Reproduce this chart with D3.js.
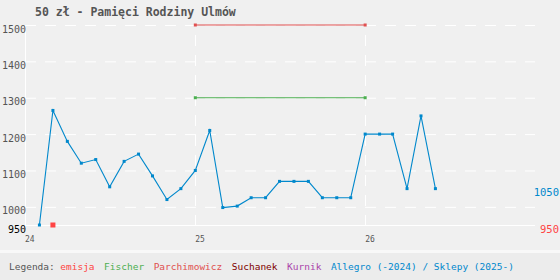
<!DOCTYPE html>
<html>
<head>
<meta charset="utf-8">
<script src="https://cdn.jsdelivr.net/npm/d3@7"></script>
<style>
    body { margin: 0; background: #f0f0f0; }
    svg { display: block; font-family: "DejaVu Sans Mono", monospace; }
</style>
</head>
<body>
<div id="chart"></div>
<script>
// dane
var allegroDates = ["2024-02", "2024-03", "2024-04", "2024-05", "2024-06", "2024-07", "2024-08",
    "2024-09", "2024-10", "2024-11", "2024-12", "2025-01", "2025-02", "2025-03", "2025-04",
    "2025-05", "2025-06", "2025-07", "2025-08", "2025-09", "2025-10", "2025-11", "2025-12",
    "2026-01", "2026-02", "2026-03", "2026-04", "2026-05", "2026-06"];
var allegroValues = [950, 1265, 1180, 1120, 1130, 1055, 1125, 1145, 1085, 1020, 1050, 1100, 1210,
    998, 1002, 1025, 1025, 1070, 1070, 1070, 1025, 1025, 1025, 1200, 1200, 1200, 1050, 1250, 1050];
var emisjaDates = ["2024-03"];
var emisjaValues = [950];
var fischerDates = ["2025-01", "2026-01"];
var fischerValues = [1300, 1300];
var parchDates = ["2025-01", "2026-01"];
var parchValues = [1500, 1500];
var yTicks = [950, 1000, 1100, 1200, 1300, 1400, 1500];
var xTicks = ["2024-01", "2025-01", "2026-01"];
var legendNames = ["emisja", "Fischer", "Parchimowicz", "Suchanek", "Kurnik", "Allegro (-2024) / Sklepy (2025-)"];
var legendColors = ["#ff4444", "#4caf50", "#e05050", "#800000", "#aa44aa", "#0088cc"];

var parse = d3.timeParse("%Y-%m");
function zip(dates, values) {
    return dates.map(function (d, i) { return [parse(d), values[i]]; });
}

var W = 560, H = 280;
var svg = d3.select("#chart").append("svg").attr("width", W).attr("height", H);

svg.append("rect").attr("width", W).attr("height", H).attr("fill", "#f0f0f0");
svg.append("rect").attr("y", 253).attr("width", W).attr("height", H - 253).attr("fill", "#ececec");
svg.append("rect").attr("y", 250).attr("width", W).attr("height", 3).attr("fill", "#f8f8f8");

var x = d3.scaleTime().domain([parse("2024-01"), parse("2027-01")]).range([25, 535]);
var y = d3.scaleLinear().domain([950, 1500]).range([225, 25]);

// siatka
svg.append("g").selectAll("line")
    .data(yTicks.filter(function (t) { return t > 950; }))
    .enter().append("line")
    .attr("x1", 25).attr("x2", 535)
    .attr("y1", function (d) { return y(d) + 0.5; })
    .attr("y2", function (d) { return y(d) + 0.5; })
    .attr("stroke", "#fff").attr("stroke-width", 1)
    .attr("stroke-dasharray", "11,9");

svg.append("g").selectAll("line")
    .data(xTicks.slice(1))
    .enter().append("line")
    .attr("x1", function (d) { return Math.round(x(parse(d))) + 0.5; })
    .attr("x2", function (d) { return Math.round(x(parse(d))) + 0.5; })
    .attr("y1", 25).attr("y2", 228)
    .attr("stroke", "#fff").attr("stroke-width", 1)
    .attr("stroke-dasharray", "11,9").attr("stroke-dashoffset", 10);

// osie
svg.append("line").attr("x1", 25.5).attr("x2", 25.5).attr("y1", 25).attr("y2", 228)
    .attr("stroke", "#fff");
svg.append("line").attr("x1", 25).attr("x2", 535).attr("y1", 225.5).attr("y2", 225.5)
    .attr("stroke", "#fff");

svg.append("g").selectAll("text")
    .data(yTicks)
    .enter().append("text")
    .attr("x", 26).attr("y", function (d) { return y(d) + 7.5; })
    .attr("text-anchor", "end")
    .attr("font-size", "10px")
    .attr("fill", function (d) { return d === 950 ? "#000" : "#555"; })
    .text(function (d) { return d; });

svg.append("g").selectAll("text")
    .data(xTicks)
    .enter().append("text")
    .attr("x", function (d) { return x(parse(d)); })
    .attr("y", 241.5)
    .attr("font-size", "8px")
    .attr("fill", "#555")
    .text(function (d) { return d3.timeFormat("%y")(parse(d)); });

// serie
var line = d3.line()
    .x(function (d) { return x(d[0]); })
    .y(function (d) { return y(d[1]); });

function drawSeries(data, color, size) {
    svg.append("path").datum(data)
        .attr("d", line)
        .attr("fill", "none")
        .attr("stroke", color)
        .attr("stroke-width", 1.1);
    svg.append("g").selectAll("rect")
        .data(data)
        .enter().append("rect")
        .attr("x", function (d) { return x(d[0]) - size / 2; })
        .attr("y", function (d) { return y(d[1]) - size / 2; })
        .attr("width", size).attr("height", size)
        .attr("fill", color);
}

drawSeries(zip(parchDates, parchValues), "#e05050", 3);
drawSeries(zip(fischerDates, fischerValues), "#4caf50", 3);
drawSeries(zip(allegroDates, allegroValues), "#0088cc", 3);
drawSeries(zip(emisjaDates, emisjaValues), "#ff4444", 5);

// etykiety ostatnich wartosci
var lastLabels = [
    [allegroValues[allegroValues.length - 1], "#0088cc"],
    [emisjaValues[emisjaValues.length - 1], "#ff4444"]
];
svg.append("g").selectAll("text")
    .data(lastLabels)
    .enter().append("text")
    .attr("x", 559).attr("y", function (d) { return y(d[0]) + 7.5; })
    .attr("text-anchor", "end")
    .attr("font-size", "10.5px")
    .attr("fill", function (d) { return d[1]; })
    .text(function (d) { return d[0]; });

// tytul
svg.append("text")
    .attr("x", 35).attr("y", 16)
    .attr("font-size", "11.5px").attr("font-weight", "bold")
    .attr("fill", "#555")
    .text("50 zł - Pamięci Rodziny Ulmów");

// legenda
var leg = svg.append("g").attr("font-size", "9.5px");
var lx = 9;
var t0 = leg.append("text").attr("x", lx).attr("y", 270).attr("fill", "#555").text("Legenda:");
lx += t0.node().getComputedTextLength() + 5.5;
legendNames.forEach(function (n, i) {
    var t = leg.append("text").attr("x", lx).attr("y", 270).attr("fill", legendColors[i]).text(n);
    lx += t.node().getComputedTextLength() + 9.5;
});
</script>
</body>
</html>
